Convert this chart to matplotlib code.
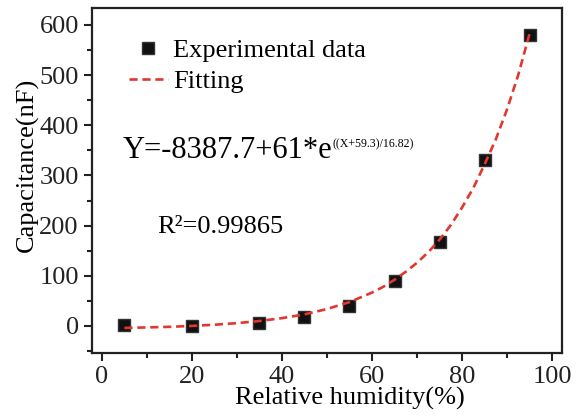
import numpy as np
import matplotlib
matplotlib.use('Agg')
import matplotlib.pyplot as plt

plt.rcParams['font.family'] = ['Liberation Serif', 'DejaVu Serif']

# measured points
humidity = [5, 20, 35, 45, 55, 65, 75, 85, 95]
capacitance = [1, 0, 5, 18, 40, 90, 167, 330, 580]

# fitted curve
fit_x = [5, 10, 15, 20, 25, 30, 35, 40, 45, 50, 55, 60, 62.5, 65, 67.5, 70, 72.5, 75, 77.5,
         80, 82.5, 85, 87.5, 90, 92.5, 95]
fit_y = [-4, -3, -1.8, 0, 2.4, 5.5, 9.8, 15.5, 23, 33.7, 47.5, 66.5, 78, 92, 108, 126, 147, 172, 201,
         236, 275, 322, 372, 432, 501, 583]

fig = plt.figure(figsize=(5.81, 4.18), dpi=100)
ax = fig.add_axes([0.1583, 0.1555, 0.809, 0.8255])

ax.plot(fit_x, fit_y, '--', color='#e2372e', linewidth=1.9, dashes=(3.1, 1.8), label='Fitting', zorder=3)
ax.plot(humidity, capacitance, 's', color='#111111', markersize=8.3, markeredgecolor='#333333',
        linestyle='none', label='Experimental data', zorder=2)

ax.set_xlim(-2.2, 102.2)
ax.set_ylim(-54, 634)
ax.set_xticks([0, 20, 40, 60, 80, 100])
ax.set_xticks([10, 30, 50, 70, 90], minor=True)
ax.set_yticks([0, 100, 200, 300, 400, 500, 600])
ax.set_yticks([-50, 50, 150, 250, 350, 450, 550], minor=True)

for s in ax.spines.values():
    s.set_linewidth(1.6)
    s.set_color('#222222')
ax.tick_params(which='major', direction='out', length=6, width=1.5, labelsize=19, colors='#222222')
ax.tick_params(which='minor', direction='out', length=3.5, width=1.5, colors='#222222')
ax.tick_params(top=False, right=False, which='both')

ax.set_xlabel('Relative humidity(%)', fontsize=19, labelpad=-1)
ax.set_ylabel('Capacitance(nF)', fontsize=19, labelpad=0)
ax.xaxis.label.set_x(0.549)
ax.yaxis.label.set_y(0.545)

h, l = ax.get_legend_handles_labels()
ax.legend([h[1], h[0]], [l[1], l[0]], loc='upper left', bbox_to_anchor=(0.078, 0.91),
          frameon=False, fontsize=19, handlelength=1.5, handletextpad=0.2,
          labelspacing=0.28, borderaxespad=0, borderpad=0)

t = ax.text(0.066, 0.565, 'Y=-8387.7+61*e', transform=ax.transAxes, fontsize=22, va='baseline')
ax.annotate('((X+59.3)/16.82)', xy=(1.0, 0.6), xycoords=t, fontsize=8.6, va='baseline', ha='left')
ax.text(0.138, 0.348, 'R\u00b2=0.99865', transform=ax.transAxes, fontsize=19, va='baseline')

fig.savefig('out.png', dpi=100)
